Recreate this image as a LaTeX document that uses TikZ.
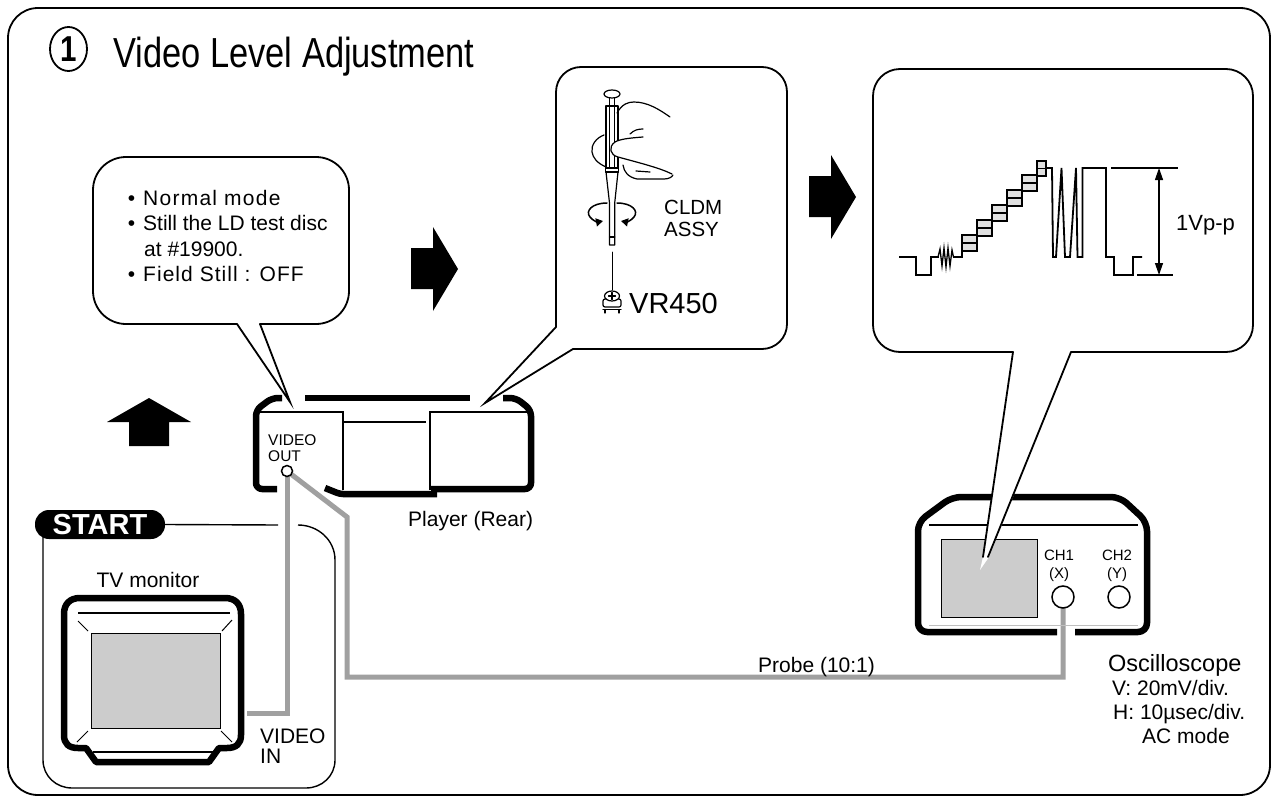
\documentclass[tikz,border=0pt]{standalone}
\usepackage{fontspec}
\setmainfont{Liberation Sans}
\newfontfamily\titlefont[FakeStretch=0.82]{Liberation Sans}
\usetikzlibrary{arrows.meta,shapes.geometric}
\newcommand\setfs[1]{\fontsize{#1}{#1}\selectfont}
\definecolor{cablegray}{HTML}{A0A0A0}
\definecolor{screengray}{HTML}{CCCCCC}
\definecolor{stepgray}{HTML}{E0E0E0}
\pgfdeclarelayer{bg}
\pgfdeclarelayer{cables}
\pgfsetlayers{bg,cables,main}
\tikzset{
  bubbleline/.style={line width=1.8pt, line cap=round, line join=round},
  tailline/.style={line width=1.8pt, line cap=round, line join=miter},
  thinline/.style={line width=1.4pt},
  heavy/.style={line width=6.5pt, line join=round},
  wire/.style={draw=cablegray, line width=5pt, line join=miter},
  lbl/.style={inner sep=0pt, anchor=base west},
  clbl/.style={inner sep=0pt, anchor=base},
  wave/.style={line width=1.8pt, line join=miter},
  stepbox/.style={draw, fill=stepgray, line width=1.2pt},
  sketch/.style={line width=1.2pt, line cap=round, line join=round},
  port/.style={circle, draw, fill=white, inner sep=0pt, line width=1.5pt},
  screen/.style={draw, fill=screengray, line width=1pt, inner sep=0pt},
}
\begin{document}
\begin{tikzpicture}[x=1pt,y=-1pt]
\useasboundingbox (0,0) rectangle (1278,803);
\begin{pgfonlayer}{bg}
\fill[white] (0,0) rectangle (1278,803);
\end{pgfonlayer}

% outer frame and heading
\draw[line width=1.8pt, rounded corners=30pt] (8,8) rectangle (1270,795);
\node[inner sep=0pt] (stepno) at (68.5,49) {\titlefont\bfseries\setfs{36pt}1};
\draw[line width=1.8pt] (stepno.center) ellipse [x radius=18.5pt, y radius=22pt];
\node[lbl] (title) at (113,67) {\titlefont\setfs{42pt}Video Level Adjustment};

% ---------- player, rear panel ----------
\draw[heavy, rounded corners=6pt] (282,398) -- (272,398) -- (256,410) -- (256,489) -- (277,489);
\draw[heavy] (305,398) -- (470,398);
\draw[heavy, rounded corners=6pt] (503,398) -- (516,398) -- (531,410) -- (531,489) -- (431,489);
\draw[heavy, rounded corners=3pt] (325,488) -- (340,494) -- (437,494);
\draw[thinline] (259,412) -- (343,412) -- (343,490);
\draw[thinline] (343,422) -- (426,422);
\draw[thinline] (430,490) -- (430,412) -- (528,412);
\node[port, minimum size=11pt] (jack) at (287,471) {};
\node[lbl] (voutA) at (268,445) {\setfs{15.5pt}VIDEO};
\node[lbl] (voutB) at (268,461) {\setfs{15.5pt}OUT};
\node[lbl] (player) at (408,526) {\setfs{21pt}Player (Rear)};

% ---------- start block with TV monitor ----------
\node[fill=black, rounded corners=14pt, minimum width=130pt, minimum height=29pt, inner sep=0pt, text=white, font={\bfseries\setfs{29pt}}] (start) at (100,524.5) {START};
\draw[thinline] (start.east) -- (278,525);
\draw[thinline] (298,525) .. controls (318,525) and (335,540) .. (335,560) -- (335,760)
  .. controls (335,776) and (322,788) .. (306,788) -- (72,788)
  .. controls (56,788) and (43,776) .. (43,760) -- (43,536);
\node[clbl] (tvlbl) at (148,587) {\setfs{21pt}TV monitor};
\draw[heavy] (64,735) -- (64,614) .. controls (64,604) and (70,598) .. (80,598) -- (225,598)
  .. controls (235,598) and (241,604) .. (241,614) -- (241,735)
  .. controls (241,744) and (236,748) .. (227,748) -- (219,748) -- (209,762) -- (96,762) -- (86,748) -- (78,748)
  .. controls (69,748) and (64,744) .. (64,735) -- cycle;
\draw[thinline] (78,613) -- (230,613);
\draw[line width=1pt] (78,621) -- (88,631) (232,620) -- (222,631) (77,742) -- (88,731) (232,742) -- (221,731);
\draw[thinline] (93,752) -- (213,752);
\node[screen, minimum width=129pt, minimum height=95pt] (tvscreen) at (155.5,680.5) {};
\node[lbl] (vinA) at (260,743) {\setfs{21pt}VIDEO};
\node[lbl] (vinB) at (260,763) {\setfs{21pt}IN};

% ---------- oscilloscope ----------
\draw[heavy, rounded corners=9pt] (1057,632) -- (918,632) -- (918,522) -- (952,497) -- (1120,497) -- (1147,522) -- (1147,632) -- (1075,632);
\draw[thinline] (929,525) -- (1138,525);
\draw[line width=0.8pt, black!25] (929,625) -- (1138,625);
\node[screen, minimum width=96pt, minimum height=78pt] (scopescreen) at (989,578) {};
\node[port, minimum size=22pt] (ch1) at (1063,597) {};
\node[port, minimum size=22pt] (ch2) at (1119,597) {};
\node[clbl] (ch1a) at (1059,560) {\setfs{15pt}CH1};
\node[clbl] (ch1b) at (1059,578) {\setfs{15pt}(X)};
\node[clbl] (ch2a) at (1117,560) {\setfs{15pt}CH2};
\node[clbl] (ch2b) at (1117,578) {\setfs{15pt}(Y)};
\node[lbl] (scope) at (1108,671) {\setfs{23.5pt}Oscilloscope};
\node[lbl] (setv) at (1112,695) {\setfs{21pt}V: 20mV/div.};
\node[lbl] (seth) at (1113,719) {\setfs{21pt}H: 10µsec/div.};
\node[lbl] (setac) at (1142,743) {\setfs{21pt}AC mode};

% ---------- cables ----------
\begin{pgfonlayer}{cables}
\coordinate (tvin) at (247,713);
\coordinate (bendA) at (347,517);
\coordinate (bendB) at (347,677);
\draw[wire] (jack.center) |- (tvin);
\draw[wire] (jack.center) -- (bendA) -- (bendB) -| (ch1.center);
\end{pgfonlayer}
\node[lbl] (probe) at (758,672) {\setfs{21pt}Probe (10:1)};

% ---------- waveform callout ----------
\fill[white] (1013,352) -- (983,557) -- (980,570) -- (989,557) -- (1071,352) -- cycle;
\draw[bubbleline, rounded corners=27pt] (1071,352) -- (1253,352) -- (1253,69) -- (873,69) -- (873,352) -- (1013,352);
\draw[tailline] (1013,352) -- (983,557);
\draw[tailline] (1071,352) -- (988,557);

\draw[wave] (899,257) -- (916,257) -- (916,275) -- (931,275) -- (931,257) -- (939,257);
\draw[line width=1.3pt, line join=miter] (938,257) -- (940,249) -- (942,266) -- (944,248) -- (946,267)
  -- (948,248) -- (950,266) -- (952,250) -- (953.5,257);
\draw[wave] (953,257) -- (962,257) -- (962,251);
\foreach \xa/\yc in {962/243,977/228,992/213,1007/198,1022/183} {
  \draw[stepbox] (\xa,\yc-8) rectangle (\xa+15,\yc+8);
  \draw[line width=1.2pt] (\xa,\yc) -- (\xa+15,\yc);
}
\draw[stepbox] (1037,161) rectangle (1046,176);
\draw[line width=1.2pt] (1037,168.5) -- (1046,168.5);
\draw[wave] (1046,168) -- (1052,168) -- (1053,257) -- (1056,257) -- (1061.5,168) -- (1065,257)
  -- (1070,257) -- (1076,168) -- (1077.5,257) -- (1082.5,257) -- (1082.5,168) -- (1106,168)
  -- (1106,257) -- (1114,257) -- (1114,275) -- (1133,275) -- (1133,257) -- (1142,257);
\draw[thinline] (1111,168) -- (1178,168);
\draw[thinline] (1137,275) -- (1173,275);
\coordinate (ptop) at (1159,168);
\coordinate (pbot) at (1159,275);
\draw[line width=1.3pt, {Triangle[length=12pt,width=8pt]}-{Triangle[length=12pt,width=8pt]}] (ptop) -- (pbot);
\node[lbl] (vpp) at (1176,230) {\setfs{22pt}1Vp-p};

% ---------- adjustment callout ----------
\draw[bubbleline, rounded corners=25pt] (573,349) -- (787,349) -- (787,67) -- (556,67) -- (556,327);
\draw[tailline] (556,327) -- (485,403) -- (573,349);

% screwdriver
\begin{scope}[sketch]
\draw (612,94) ellipse [x radius=8pt, y radius=4pt];
\draw (609.5,98) -- (609.5,106) (614.5,98) -- (614.5,106);
\draw (606,106) rectangle (618,168);
\draw (609.5,106) -- (609.5,168) (614.5,106) -- (614.5,168);
\draw (605.5,168) rectangle (618.5,172);
\draw (606,172) -- (609.5,203) -- (609.5,245) -- (614.7,245) -- (614.7,203) -- (618,172);
\draw (609.5,237) -- (614.7,237);
\draw[line width=0.9pt] (612,252) -- (612,290);
% hand
\draw (617,113) .. controls (622,104) and (628,102) .. (634,102) .. controls (648,102) and (660,110) .. (670,117);
\draw (630,134) .. controls (634,130) and (638,129) .. (643,129);
\filldraw[fill=white] (643,137) .. controls (630,138) and (620,139) .. (615,142)
  .. controls (608,147) and (610,155) .. (618,157) .. controls (640,163) and (660,168) .. (672,174);
\draw (604,135) .. controls (596,138) and (591,145) .. (592,152) .. controls (593,158) and (597,163) .. (606,167);
\draw (623,165) .. controls (624,172) and (628,177) .. (637,179) -- (664,179) .. controls (669,179) and (672,177) .. (673,175);
\draw (636,171) -- (650,172);
% turning arrows
\draw[line width=1.5pt, -{Triangle[length=7pt,width=8pt]}] (607,203) .. controls (592,203) and (585,211) .. (590,217) .. controls (593,221) and (598,222) .. (603,221);
\draw[line width=1.5pt, -{Triangle[length=7pt,width=8pt]}] (617,203) .. controls (632,203) and (639,211) .. (634,217) .. controls (631,221) and (626,222) .. (621,221);
% trimmer
\draw[fill=white, rounded corners=2pt] (603,299) rectangle (621,307);
\draw[fill=white] (612,296) ellipse [x radius=7.5pt, y radius=5pt];
\draw (612,292.5) -- (612,299.5) (608.5,296) -- (615.5,296);
\draw (603,309.5) -- (621,309.5) (605,309.5) -- (605,313) (619,309.5) -- (619,313);
\end{scope}
\node[lbl] (cldmA) at (664,214) {\setfs{20.5pt}CLDM};
\node[lbl] (cldmB) at (664,236) {\setfs{20.5pt}ASSY};
\node[lbl] (vr) at (629,313) {\setfs{29pt}VR450};

% ---------- settings callout ----------
\draw[bubbleline, rounded corners=33pt] (260,324) -- (349,324) -- (349,157) -- (93,157) -- (93,324) -- (237,324);
\draw[tailline] (237,324) -- (290,402) -- (260,324);
\node[clbl] (bulA) at (131.5,205) {\setfs{21pt}\textbullet};
\node[lbl] (noteA) at (143,205) {\setfs{21pt}\addfontfeature{LetterSpace=6}Normal mode};
\node[clbl] (bulB) at (131.5,230) {\setfs{21pt}\textbullet};
\node[lbl] (noteB) at (143,230) {\setfs{21pt}Still the LD test disc};
\node[lbl] (noteC) at (144,256) {\setfs{21pt}at \#19900.};
\node[clbl] (bulD) at (131.5,281) {\setfs{21pt}\textbullet};
\node[lbl] (noteD) at (143,281) {\setfs{21pt}\addfontfeature{LetterSpace=5}Field Still : OFF};

% ---------- step arrows ----------
\fill (411,248) -- (433,248) -- (433,227) -- (458,269) -- (433,311) -- (433,289) -- (411,289) -- cycle;
\fill (809,176) -- (831,176) -- (831,155) -- (856,197) -- (831,239) -- (831,217) -- (809,217) -- cycle;
\fill (149,398) -- (191,422) -- (169,422) -- (169,446) -- (129,446) -- (129,422) -- (107,422) -- cycle;
\end{tikzpicture}
\end{document}
